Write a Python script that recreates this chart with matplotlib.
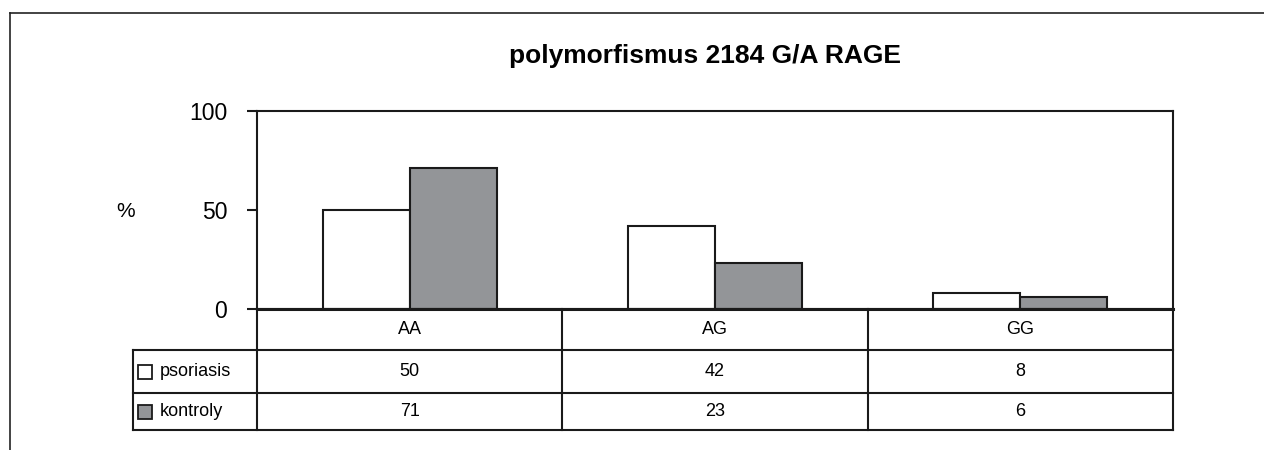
import matplotlib
matplotlib.use("Agg")
import matplotlib.pyplot as plt
import numpy as np
from matplotlib.patches import Rectangle

plt.rcParams['font.family'] = ['Liberation Sans', 'DejaVu Sans']

# data
kategorie = ["AA", "AG", "GG"]
skupiny = ["psoriasis", "kontroly"]
psoriasis = [50, 42, 8]
kontroly = [71, 23, 6]
barvy = ["white", "#939598"]
y_ticks = [0, 50, 100]

W, H = 1264, 450
fig = plt.figure(figsize=(W / 100, H / 100), dpi=100)

def px(x0, y0, x1, y1):
    # pixel box (top-left origin) -> figure fraction
    return [x0 / W, 1 - y1 / H, (x1 - x0) / W, (y1 - y0) / H]

# outer frame (open at the bottom and right, like the original clip)
fig.add_artist(plt.Line2D([10.5 / W, 10.5 / W], [0, 1 - 12.5 / H],
                          transform=fig.transFigure, color="#222222", lw=1.2))
fig.add_artist(plt.Line2D([10.5 / W, 1], [1 - 12.5 / H, 1 - 12.5 / H],
                          transform=fig.transFigure, color="#222222", lw=1.2))

# main chart
ax = fig.add_axes(px(257, 111, 1173, 309))
x = np.arange(len(kategorie))
w = 0.285
ax.bar(x - w / 2, psoriasis, w, color=barvy[0], edgecolor="#1a1a1a", lw=1.5)
ax.bar(x + w / 2, kontroly, w, color=barvy[1], edgecolor="#1a1a1a", lw=1.5)
ax.set_xlim(-0.5, len(kategorie) - 0.5)
ax.set_ylim(0, 100)
ax.set_xticks([])
ax.set_yticks(y_ticks)
ax.set_yticklabels([str(t) for t in y_ticks], fontsize=16.5)
ax.tick_params(axis="y", direction="out", length=7.5, width=1.5, pad=14,
               color="#1a1a1a")
for s in ax.spines.values():
    s.set_linewidth(1.5)
    s.set_color("#1a1a1a")
ax.spines["bottom"].set_linewidth(2.2)
ax.set_ylabel("%", rotation=0, fontsize=15, va="center")
ax.yaxis.set_label_coords(-0.143, 0.49)

fig.text(705 / W, 1 - 63 / H, "polymorfismus 2184 G/A RAGE",
         ha="center", va="baseline", fontsize=19, fontweight="bold")

# data table under the chart (row borders in pixels below the zero line)
radky = [0, 41, 84, 121]
tab = fig.add_axes(px(133, 309, 1173, 430))
left = -0.5 - 124 / 305.3
tab.set_xlim(left, len(kategorie) - 0.5)
tab.set_ylim(radky[-1], 0)
tab.axis("off")
lk = dict(color="#1a1a1a", lw=1.5, clip_on=False)
# horizontal lines
tab.plot([-0.5, len(kategorie) - 0.5], [0, 0], **lk)
for r in radky[1:]:
    tab.plot([left, len(kategorie) - 0.5], [r, r], **lk)
# vertical lines
tab.plot([left, left], [radky[1], radky[-1]], **lk)
for c in range(len(kategorie) + 1):
    tab.plot([c - 0.5, c - 0.5], [0, radky[-1]], **lk)

stred = [(radky[i] + radky[i + 1]) / 2 for i in range(3)]
for i, k in enumerate(kategorie):
    tab.text(i, stred[0], k, ha="center", va="center", fontsize=13)
for r, (name, vals) in enumerate(zip(skupiny, [psoriasis, kontroly])):
    yy = stred[r + 1]
    tab.add_patch(Rectangle((left + 0.016, yy - 7), 0.045, 14,
                            facecolor=barvy[r], edgecolor="#1a1a1a", lw=1.3,
                            clip_on=False))
    tab.text(left + 0.088, yy, name, ha="left", va="center", fontsize=13)
    for i, v in enumerate(vals):
        tab.text(i, yy, str(v), ha="center", va="center", fontsize=13)

fig.savefig("out.png", dpi=100, facecolor="white")
